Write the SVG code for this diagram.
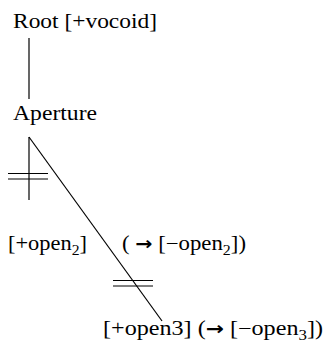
<svg xmlns="http://www.w3.org/2000/svg" width="325" height="343" viewBox="0 0 325 343">
<style>
text{font-family:"Liberation Serif","Times New Roman",serif;font-size:20px;fill:#000}
.sub{font-size:14px}
.arr{font-family:"DejaVu Sans",sans-serif;font-size:18px;font-weight:bold}
line{stroke:#000;stroke-width:1.2}
</style>
<rect width="325" height="343" fill="#fff"/>
<g id="root"><text x="13" y="28" textLength="144" lengthAdjust="spacingAndGlyphs">Root [+vocoid]</text></g>
<g id="aperture"><text x="13" y="120" textLength="84" lengthAdjust="spacingAndGlyphs">Aperture</text></g>
<g id="open2"><text x="8" y="250" textLength="79" lengthAdjust="spacingAndGlyphs">[+open<tspan class="sub" dy="5">2</tspan><tspan dy="-5">]</tspan></text></g>
<g id="minus-open2"><text x="122" y="250" textLength="124" lengthAdjust="spacingAndGlyphs">( <tspan class="arr">→</tspan> [−open<tspan class="sub" dy="5">2</tspan><tspan dy="-5">])</tspan></text></g>
<g id="open3"><text x="103" y="335" textLength="220" lengthAdjust="spacingAndGlyphs">[+open3] (<tspan class="arr">→</tspan> [−open<tspan class="sub" dy="5">3</tspan><tspan dy="-5">])</tspan></text></g>
<g id="connectors">
<line x1="29" y1="38" x2="29" y2="99"/>
<line x1="29" y1="137" x2="29" y2="200"/>
<line x1="29" y1="137" x2="162" y2="321"/>
<line x1="8" y1="173.5" x2="48" y2="173.5"/>
<line x1="8" y1="179" x2="48" y2="179"/>
<line x1="113" y1="280.5" x2="153" y2="280.5"/>
<line x1="113" y1="286" x2="153" y2="286"/>
</g>
</svg>
